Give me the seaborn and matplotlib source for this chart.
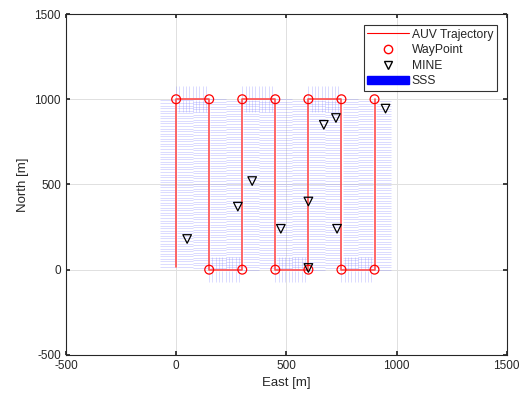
import numpy as np
import pandas as pd
import matplotlib
matplotlib.use("Agg")
import matplotlib.pyplot as plt
import seaborn as sns
from matplotlib.collections import LineCollection
from matplotlib.patches import Patch
from matplotlib.lines import Line2D

# waypoints of the lawnmower survey
wp_east = [0, 150, 150, 300, 300, 450, 450, 600, 600, 750, 750, 900, 900]
wp_north = [1000, 1000, 0, 0, 1000, 1000, 0, 0, 1000, 1000, 0, 0, 1000]
# AUV start point
start_east = 0
start_north = 18
# mines
mine_east = [50, 280, 345, 475, 600, 600, 670, 725, 730, 950]
mine_north = [180, 370, 520, 240, 400, 10, 850, 890, 240, 945]
# side scan sonar swath (m either side of track) and ping spacing
sss_min = 5
sss_max = 75
ping_step = 15

sns.set_theme(style="white")
plt.rcParams['font.family'] = ['Liberation Sans', 'DejaVu Sans']
plt.rcParams['axes.unicode_minus'] = False

traj = pd.DataFrame({"east": [start_east] + wp_east, "north": [start_north] + wp_north})
wps = pd.DataFrame({"east": wp_east, "north": wp_north})
mines = pd.DataFrame({"east": mine_east, "north": mine_north})

fig = plt.figure(figsize=(5.23, 4.01), dpi=100)
ax = fig.add_axes([0.126, 0.115, 0.843, 0.85])

# sss swaths: perpendicular segments along each leg
segs = []
e = traj["east"].to_numpy(float)
n = traj["north"].to_numpy(float)
for i in range(len(e) - 1):
    p0 = np.array([e[i], n[i]])
    p1 = np.array([e[i + 1], n[i + 1]])
    d = p1 - p0
    L = np.hypot(*d)
    u = d / L
    perp = np.array([-u[1], u[0]])
    for s in np.arange(0, L, ping_step):
        p = p0 + u * s
        segs.append([p + perp * sss_min, p + perp * sss_max])
        segs.append([p - perp * sss_min, p - perp * sss_max])
ax.add_collection(LineCollection(segs, colors=(0.45, 0.45, 1, 0.35), linewidths=0.5, zorder=1))

sns.lineplot(data=traj, x="east", y="north", sort=False, estimator=None,
             color=(1, 0.3, 0.3), linewidth=1.2, ax=ax, zorder=3)
sns.scatterplot(data=wps, x="east", y="north", marker="o", s=40,
                facecolors="none", edgecolors="red", linewidths=0.9, ax=ax, zorder=4)
sns.scatterplot(data=mines, x="east", y="north", marker="v", s=38,
                facecolors="none", edgecolors="black", linewidths=0.9, ax=ax, zorder=4)

ax.set_xlim(-500, 1500)
ax.set_ylim(-500, 1500)
ax.set_xticks([-500, 0, 500, 1000, 1500])
ax.set_yticks([-500, 0, 500, 1000, 1500])
ax.grid(True, color=(0.88, 0.88, 0.88), linewidth=0.7)
ax.set_axisbelow(True)
ax.tick_params(direction="in", length=3, labelsize=8.5, colors=(0.15, 0.15, 0.15),
               top=True, right=True, bottom=True, left=True)
for sp in ax.spines.values():
    sp.set_color((0.15, 0.15, 0.15))
    sp.set_linewidth(0.8)
ax.set_xlabel("East [m]", fontsize=9.5, color=(0.15, 0.15, 0.15))
ax.set_ylabel("North [m]", fontsize=9.5, color=(0.15, 0.15, 0.15))

handles = [
    Line2D([0], [0], color="red", linewidth=0.8),
    Line2D([0], [0], marker="o", linestyle="none", markerfacecolor="none",
           markeredgecolor="red", markersize=6),
    Line2D([0], [0], marker="v", linestyle="none", markerfacecolor="none",
           markeredgecolor="black", markersize=6),
    Patch(facecolor="blue", edgecolor="blue"),
]
leg = ax.legend(handles, ["AUV Trajectory", "WayPoint", "MINE", "SSS"],
                loc="upper right", bbox_to_anchor=(0.977, 0.968), fontsize=8.7,
                frameon=True, fancybox=False, edgecolor="black",
                handlelength=3.4, handletextpad=0.25, borderpad=0.3,
                labelspacing=0.3, borderaxespad=0)
leg.get_frame().set_linewidth(0.8)

fig.savefig("out.png", dpi=100)
